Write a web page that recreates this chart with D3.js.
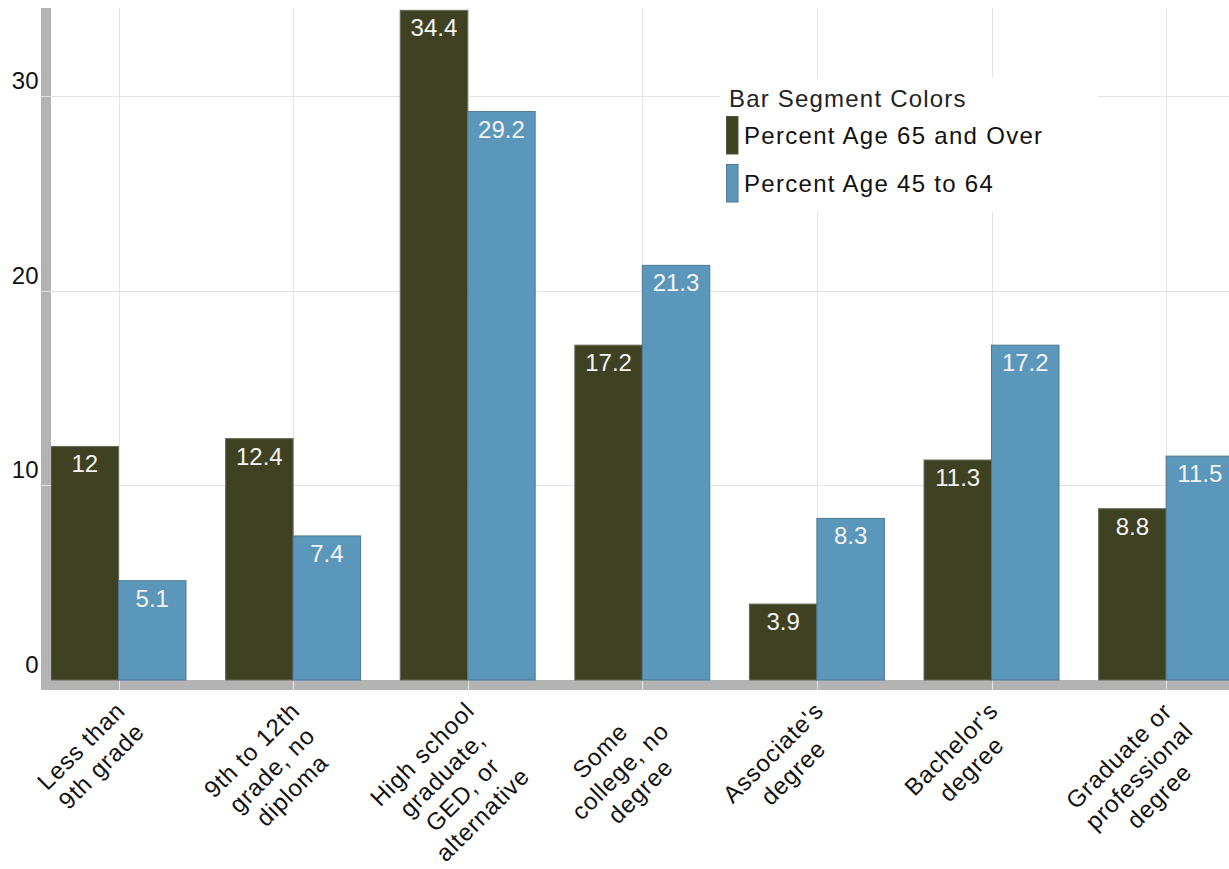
<!DOCTYPE html>
<html>
<head>
<meta charset="utf-8">
<script src="https://cdn.jsdelivr.net/npm/d3@7"></script>
<style>
  html, body { margin: 0; padding: 0; background: #ffffff; }
  svg { display: block; }
  text { font-family: "Liberation Sans", Arial, Helvetica, sans-serif; }
</style>
</head>
<body>
<svg id="chart" width="1229" height="869"></svg>
<script>
// Educational attainment by age group (percent)
const categories = [
  "Less than 9th grade",
  "9th to 12th grade, no diploma",
  "High school graduate, GED, or alternative",
  "Some college, no degree",
  "Associate's degree",
  "Bachelor's degree",
  "Graduate or professional degree"
];
const categoryLines = [
  ["Less than", "9th grade"],
  ["9th to 12th", "grade, no", "diploma"],
  ["High school", "graduate,", "GED, or", "alternative"],
  ["Some", "college, no", "degree"],
  ["Associate's", "degree"],
  ["Bachelor's", "degree"],
  ["Graduate or", "professional", "degree"]
];
const seriesNames = ["Percent Age 65 and Over", "Percent Age 45 to 64"];
const age65AndOver = [12, 12.4, 34.4, 17.2, 3.9, 11.3, 8.8];
const age45To64 = [5.1, 7.4, 29.2, 21.3, 8.3, 17.2, 11.5];
const yTickValues = [0, 10, 20, 30];
const legendTitle = "Bar Segment Colors";

const seriesColors = ["#3f4222", "#5b97bb"];
const seriesValues = [age65AndOver, age45To64];

const plot = { left: 51, right: 1229, top: 8, bottom: 680 };
const axisBand = 10;

const svg = d3.select("#chart");

const x = d3.scaleBand()
  .domain(categories)
  .range([31.2, 1253.4])
  .paddingInner(0.227)
  .paddingOuter(0.1135);

const xSub = d3.scaleBand()
  .domain(seriesNames)
  .range([0, x.bandwidth()])
  .padding(0);

const y = d3.scaleLinear()
  .domain([0, 34.52])
  .range([plot.bottom, plot.top]);

const color = d3.scaleOrdinal().domain(seriesNames).range(seriesColors);

const center = c => x(c) + x.bandwidth() / 2;

// axis rails
svg.append("rect")
  .attr("x", plot.left - axisBand).attr("y", plot.top)
  .attr("width", axisBand).attr("height", plot.bottom + axisBand - plot.top)
  .attr("fill", "#b3b3b3");
svg.append("rect")
  .attr("x", plot.left - axisBand).attr("y", plot.bottom)
  .attr("width", plot.right - plot.left + axisBand).attr("height", axisBand)
  .attr("fill", "#b3b3b3");

// gridlines
const grid = svg.append("g").attr("class", "grid");
grid.selectAll("line.h")
  .data(yTickValues.filter(v => v > 0))
  .join("line")
  .attr("class", "h")
  .attr("x1", plot.left - axisBand).attr("x2", plot.right)
  .attr("y1", d => Math.round(y(d)) + 0.5).attr("y2", d => Math.round(y(d)) + 0.5)
  .attr("stroke", "#e4e4e4").attr("stroke-width", 1);
grid.selectAll("line.v")
  .data(categories)
  .join("line")
  .attr("class", "v")
  .attr("x1", d => Math.round(center(d)) + 0.5).attr("x2", d => Math.round(center(d)) + 0.5)
  .attr("y1", plot.top).attr("y2", plot.bottom + axisBand)
  .attr("stroke", "#e4e4e4").attr("stroke-width", 1);

// y tick labels
svg.append("g").selectAll("text")
  .data(yTickValues)
  .join("text")
  .attr("x", 38.5)
  .attr("y", d => y(d) - 7)
  .attr("text-anchor", "end")
  .attr("font-size", 24)
  .attr("fill", "#111")
  .text(d => d);

// bars
svg.append("defs").append("clipPath").attr("id", "plotClip")
  .append("rect")
  .attr("x", plot.left).attr("y", plot.top)
  .attr("width", plot.right - plot.left).attr("height", plot.bottom - plot.top + 1);

const rows = categories.map((c, i) => ({
  category: c,
  values: seriesNames.map((s, j) => ({ series: s, value: seriesValues[j][i] }))
}));

const barLayer = svg.append("g").attr("clip-path", "url(#plotClip)");
const groups = barLayer.selectAll("g.group")
  .data(rows)
  .join("g")
  .attr("class", "group")
  .attr("transform", d => `translate(${x(d.category)},0)`);

groups.selectAll("rect")
  .data(d => d.values)
  .join("rect")
  .attr("x", d => xSub(d.series))
  .attr("y", d => y(d.value))
  .attr("width", xSub.bandwidth())
  .attr("height", d => y(0) - y(d.value))
  .attr("fill", d => color(d.series))
  .attr("stroke", d => d.series === seriesNames[0] ? "#6a6a5a" : "#4f7890")
  .attr("stroke-width", 1);

groups.selectAll("text")
  .data(d => d.values)
  .join("text")
  .attr("x", d => xSub(d.series) + xSub.bandwidth() / 2)
  .attr("y", d => y(d.value) + 26)
  .attr("text-anchor", "middle")
  .attr("font-size", 24)
  .attr("fill", "#f4f4f4")
  .text(d => d.value);

// category labels, rotated and wrapped
const lineHeight = 28.5;
const labelGroups = svg.append("g").selectAll("g.xlabel")
  .data(categories)
  .join("g")
  .attr("class", "xlabel")
  .attr("transform", d => `translate(${center(d) - 6},${plot.bottom + axisBand + 8}) rotate(-45)`);

labelGroups.each(function(d, i) {
  const g = d3.select(this);
  const lines = categoryLines[i];
  const texts = g.selectAll("text")
    .data(lines)
    .join("text")
    .attr("font-size", 24)
    .attr("letter-spacing", 0.9)
    .attr("fill", "#111")
    .attr("text-anchor", "middle")
    .attr("y", (l, k) => 20 + k * lineHeight)
    .text(l => l);
  let maxW = 0;
  texts.each(function() { maxW = Math.max(maxW, this.getComputedTextLength()); });
  texts.attr("x", -maxW / 2);
});

// legend
const legend = svg.append("g").attr("class", "legend");
legend.append("rect")
  .attr("x", 720).attr("y", 78).attr("width", 378).attr("height", 134)
  .attr("fill", "#ffffff");
legend.append("text")
  .attr("x", 729).attr("y", 107)
  .attr("font-size", 24)
  .attr("letter-spacing", 1.2)
  .attr("fill", "#222")
  .text(legendTitle);
const items = legend.selectAll("g.item")
  .data(seriesNames)
  .join("g")
  .attr("class", "item")
  .attr("transform", (d, i) => `translate(726,${116 + i * 48})`);
items.append("rect")
  .attr("x", 0.5).attr("y", 0.5).attr("width", 11.5).attr("height", 37.5)
  .attr("fill", d => color(d))
  .attr("stroke", d => d === seriesNames[0] ? "#555545" : "#4f7890")
  .attr("stroke-width", 1);
items.append("text")
  .attr("x", 18).attr("y", 28)
  .attr("font-size", 24)
  .attr("letter-spacing", 1.3)
  .attr("fill", "#111")
  .text(d => d);
</script>
</body>
</html>
